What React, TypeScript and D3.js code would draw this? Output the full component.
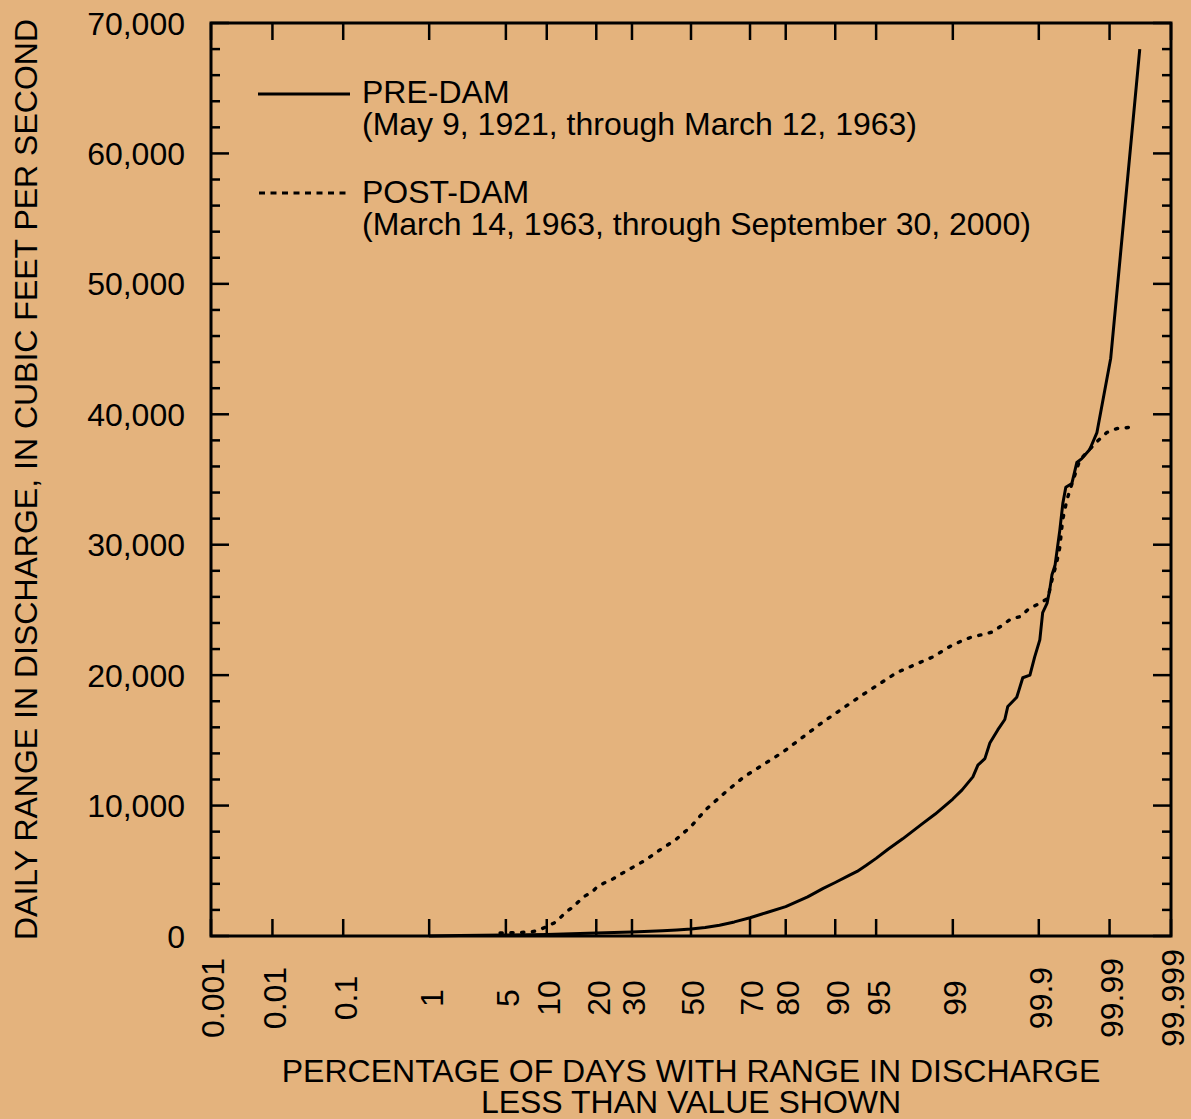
import React from "react";
import * as d3 from "d3";

// Exceedance-style duration curves of daily discharge range, plotted on a normal-probability axis.
const probabilityTicks = [0.001, 0.01, 0.1, 1, 5, 10, 20, 30, 50, 70, 80, 90, 95, 99, 99.9, 99.99, 99.999];
const probabilityLabels = ["0.001", "0.01", "0.1", "1", "5", "10", "20", "30", "50", "70", "80", "90", "95", "99", "99.9", "99.99", "99.999"];
const rangeMajorTicks = [0, 10000, 20000, 30000, 40000, 50000, 60000, 70000];
const rangeMinorTicks = d3.range(0, 70001, 2000);

// PRE-DAM (May 9, 1921 - March 12, 1963)
const preDamPercent = [
  1, 2, 5, 10, 20, 30, 40, 45, 50, 55, 60, 65, 70, 75, 80, 85, 88, 90, 92, 93, 94, 95, 96, 97, 98, 98.5, 99, 99.2,
  99.387, 99.46, 99.549, 99.604, 99.679, 99.735, 99.756, 99.81, 99.84, 99.87,
  99.887, 99.903, 99.911, 99.922, 99.928, 99.933, 99.939, 99.9475, 99.9524,
  99.9566, 99.9643, 99.9696, 99.9742, 99.9802, 99.9845, 99.9904, 99.99666,
];
const preDamRange = [
  0, 30, 80, 120, 230, 300, 400, 460, 540, 650, 820, 1080, 1400, 1800, 2250, 3000, 3650, 4100, 4650, 4950, 5400, 5950, 6650, 7450, 8600, 9350, 10500, 11200,
  12200, 13100, 13600, 14800, 15800, 16600, 17600, 18300, 19800, 20000,
  21400, 22700, 24800, 25500, 26500, 27700, 28400, 31100, 33200,
  34400, 34700, 36300, 36600, 37300, 38600, 44300, 68000,
];

// POST-DAM (March 14, 1963 - September 30, 2000)
const postDamPercent = [
  4.49, 5.5, 7.77, 8.85, 10.2, 11.19, 12.23, 13.35, 14.73, 15.78, 17.33, 18.97, 20.19, 21.99, 23.87,
  27.0, 34.15, 39.15, 44.7, 50, 55.3, 61.87, 68.1, 79.3, 87.6, 93.2, 96.63, 98.42, 98.93,
  99.176, 99.356, 99.512, 99.624, 99.713, 99.775, 99.831, 99.866, 99.903, 99.924, 99.933,
  99.942, 99.9475, 99.952, 99.958, 99.962, 99.9725, 99.98, 99.9845, 99.989, 99.9922, 99.9952,
];
const postDamRange = [
  230, 250, 300, 460, 770, 1000, 1380, 1840, 2220, 2600, 3070, 3370, 3760, 4060, 4290,
  4800, 5800, 6600, 7400, 8400, 9700, 11000, 12200, 14100, 16300, 18300, 20200, 21400, 22200,
  22600, 22900, 23100, 23300, 23800, 24300, 24500, 25100, 25500, 25900, 27300,
  28600, 29800, 31900, 33400, 34200, 36500, 37300, 37900, 38600, 38900, 39000,
];

// Inverse standard-normal CDF (Acklam's rational approximation).
function probit(p: number): number {
  const a = [-3.969683028665376e1, 2.209460984245205e2, -2.759285104469687e2, 1.38357751867269e2, -3.066479806614716e1, 2.506628277459239];
  const b = [-5.447609879822406e1, 1.615858368580409e2, -1.556989798598866e2, 6.680131188771972e1, -1.328068155288572e1];
  const c = [-7.784894002430293e-3, -3.223964580411365e-1, -2.400758277161838, -2.549732539343734, 4.374664141464968, 2.938163982698783];
  const d = [7.784695709041462e-3, 3.224671290700398e-1, 2.445134137142996, 3.754408661907416];
  const pl = 0.02425;
  if (p < pl) {
    const q = Math.sqrt(-2 * Math.log(p));
    return (((((c[0] * q + c[1]) * q + c[2]) * q + c[3]) * q + c[4]) * q + c[5]) /
      ((((d[0] * q + d[1]) * q + d[2]) * q + d[3]) * q + 1);
  }
  if (p > 1 - pl) {
    const q = Math.sqrt(-2 * Math.log(1 - p));
    return -(((((c[0] * q + c[1]) * q + c[2]) * q + c[3]) * q + c[4]) * q + c[5]) /
      ((((d[0] * q + d[1]) * q + d[2]) * q + d[3]) * q + 1);
  }
  const q = p - 0.5;
  const r = q * q;
  return (((((a[0] * r + a[1]) * r + a[2]) * r + a[3]) * r + a[4]) * r + a[5]) * q /
    (((((b[0] * r + b[1]) * r + b[2]) * r + b[3]) * r + b[4]) * r + 1);
}

const W = 1191;
const H = 1119;
const left = 211;
const right = 1171;
const top = 23;
const bottom = 936;

const zScale = d3.scaleLinear().domain([probit(0.00001), probit(0.99999)]).range([left, right]);
const x = (pct: number) => zScale(probit(pct / 100));
const y = d3.scaleLinear().domain([0, 70000]).range([bottom, top]);

const FONT = "'Liberation Sans', Arial, Helvetica, sans-serif";
const FS = 32;

export default function App() {
  const line = d3.line<[number, number]>().x((d) => x(d[0])).y((d) => y(d[1])).curve(d3.curveLinear);
  const pre = line(preDamPercent.map((p, i) => [p, preDamRange[i]] as [number, number])) || "";
  const post = line(postDamPercent.map((p, i) => [p, postDamRange[i]] as [number, number])) || "";

  return (
    <div style={{ position: "absolute", left: 0, top: 0 }}>
      <svg width={W} height={H} style={{ display: "block" }} fontFamily={FONT}>
        <rect x={0} y={0} width={W} height={H} fill="#E4B37D" />

        {/* minor and major range ticks, left and right sides */}
        <g stroke="#000" strokeWidth={2.5}>
          {rangeMinorTicks.map((v) => {
            const major = v % 10000 === 0;
            const len = major ? 18 : 9;
            return (
              <g key={v}>
                <line x1={left} x2={left + len} y1={y(v)} y2={y(v)} />
                <line x1={right} x2={right - len} y1={y(v)} y2={y(v)} />
              </g>
            );
          })}
          {probabilityTicks.map((p) => (
            <g key={p}>
              <line x1={x(p)} x2={x(p)} y1={bottom} y2={bottom - 17} />
              <line x1={x(p)} x2={x(p)} y1={top} y2={top + 17} />
            </g>
          ))}
        </g>

        {/* curves */}
        <path d={post} fill="none" stroke="#000" strokeWidth={3.4} strokeDasharray="2.2 8.6" strokeLinecap="round" />
        <path d={pre} fill="none" stroke="#000" strokeWidth={3} strokeLinejoin="round" />

        {/* plot frame */}
        <rect x={left} y={top} width={right - left} height={bottom - top} fill="none" stroke="#000" strokeWidth={3} />

        {/* range labels */}
        <g fontSize={FS} textAnchor="end" fill="#000">
          {rangeMajorTicks.map((v) => (
            <text key={v} x={185} y={y(v)} dy="0.36em">
              {d3.format(",")(v)}
            </text>
          ))}
        </g>

        {/* probability labels */}
        <g fontSize={FS} textAnchor="middle" fill="#000">
          {probabilityTicks.map((p, i) => (
            <text key={p} transform={`translate(${x(p)},998) rotate(-90)`} dy="0.42em">
              {probabilityLabels[i]}
            </text>
          ))}
        </g>

        {/* axis titles */}
        <text
          transform={`translate(25,${(top + bottom) / 2}) rotate(-90)`}
          dy="0.36em"
          textAnchor="middle"
          fontSize={FS}
          fill="#000"
        >
          DAILY RANGE IN DISCHARGE, IN CUBIC FEET PER SECOND
        </text>
        <text x={(left + right) / 2} y={1082} textAnchor="middle" fontSize={FS} fill="#000">
          PERCENTAGE OF DAYS WITH RANGE IN DISCHARGE
        </text>
        <text x={(left + right) / 2} y={1113} textAnchor="middle" fontSize={FS} fill="#000">
          LESS THAN VALUE SHOWN
        </text>

        {/* legend */}
        <g fontSize={FS} fill="#000">
          <line x1={258} x2={350} y1={94} y2={94} stroke="#000" strokeWidth={3} />
          <text x={362} y={103}>PRE-DAM</text>
          <text x={362} y={135}>(May 9, 1921, through March 12, 1963)</text>
          <line x1={259} x2={350} y1={193} y2={193} stroke="#000" strokeWidth={3} strokeDasharray="6 5.5" />
          <text x={362} y={203}>POST-DAM</text>
          <text x={362} y={235}>(March 14, 1963, through September 30, 2000)</text>
        </g>
      </svg>
    </div>
  );
}
